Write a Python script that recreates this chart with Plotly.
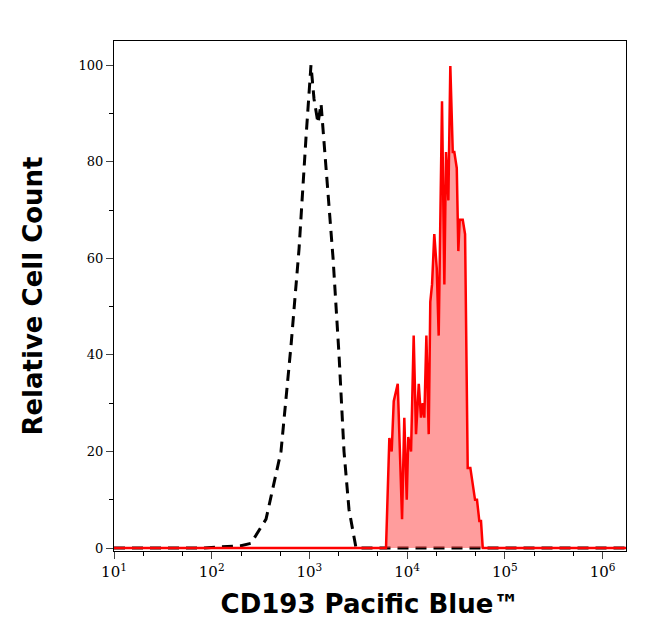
import plotly.graph_objects as go

# log10 intensity and relative counts
ctrl_log = [1.0, 1.890, 2.300, 2.402, 2.556, 2.709, 2.812, 2.894, 2.965, 3.016, 3.047, 3.088,
            3.119, 3.170, 3.242, 3.303, 3.354, 3.405, 3.477, 6.24]
ctrl_cnt = [0, 0, 0.5, 1, 6, 20, 42, 62, 85, 100, 93, 88, 92, 78, 60, 40, 20, 8, 0, 0]

stain_log = [1.0, 3.77, 3.784, 3.818, 3.842, 3.863, 3.904, 3.948, 3.971, 3.996, 4.012, 4.040, 4.067,
             4.091, 4.119, 4.142, 4.160, 4.176, 4.197, 4.221, 4.237, 4.255, 4.278, 4.303,
             4.323, 4.357, 4.381, 4.398, 4.422, 4.442, 4.467, 4.483, 4.508, 4.524, 4.538,
             4.569, 4.593, 4.620, 4.647, 4.695, 4.715, 4.739, 4.756, 4.774, 6.24]
stain_cnt = [0, 0, 0, 22.8, 20, 30.4, 34, 6, 27, 10, 23, 20, 44, 23.6, 34, 27, 30, 27, 44, 23.6,
             51, 54.6, 65, 58, 44, 92.5, 54.6, 82, 72, 99.8, 82, 82, 78.7, 61.5, 68, 68, 65,
             16.6, 16.6, 10, 10, 5.6, 5.6, 0, 0]

xtick_vals = [10, 100, 1000, 10000, 100000, 1000000]
xtick_text = ["10<sup>1</sup>", "10<sup>2</sup>", "10<sup>3</sup>", "10<sup>4</sup>",
              "10<sup>5</sup>", "10<sup>6</sup>"]
ytick_vals = [0, 20, 40, 60, 80, 100]

fig = go.Figure()
fig.add_trace(go.Scatter(x=[10 ** v for v in ctrl_log], y=ctrl_cnt, mode="lines",
                         line=dict(color="black", width=3, dash="11px,7px"), showlegend=False))
fig.add_trace(go.Scatter(x=[10 ** v for v in stain_log], y=stain_cnt, mode="lines",
                         fill="tozeroy", fillcolor="rgba(255,60,60,0.5)",
                         line=dict(color="#ff0000", width=2.5), showlegend=False))

fig.update_layout(
    width=646, height=641, paper_bgcolor="white", plot_bgcolor="white",
    margin=dict(l=106, r=28, t=33, b=98),
    xaxis=dict(type="log", range=[1.0, 6.24], tickvals=xtick_vals, ticktext=xtick_text,
               ticks="outside", ticklen=7, showgrid=False, zeroline=False,
               showline=True, linecolor="black", mirror=True,
               minor=dict(ticks="outside", ticklen=4, tickcolor="black", showgrid=False),
               tickfont=dict(family="DejaVu Serif", size=15, color="black"),
               title=dict(text="<b>CD193 Pacific Blue™</b>", standoff=14,
                          font=dict(family="DejaVu Sans", size=26, color="black"))),
    yaxis=dict(range=[-0.6, 105], tickvals=ytick_vals, ticks="outside", ticklen=7,
               showgrid=False, zeroline=False, showline=True, linecolor="black", mirror=True,
               minor=dict(ticks="outside", ticklen=4, dtick=10, tickcolor="black"),
               tickfont=dict(family="DejaVu Serif", size=13, color="black"),
               title=dict(text="<b>Relative Cell Count</b>", standoff=28,
                          font=dict(family="DejaVu Sans", size=26, color="black"))),
)
fig.write_html("out.html")
